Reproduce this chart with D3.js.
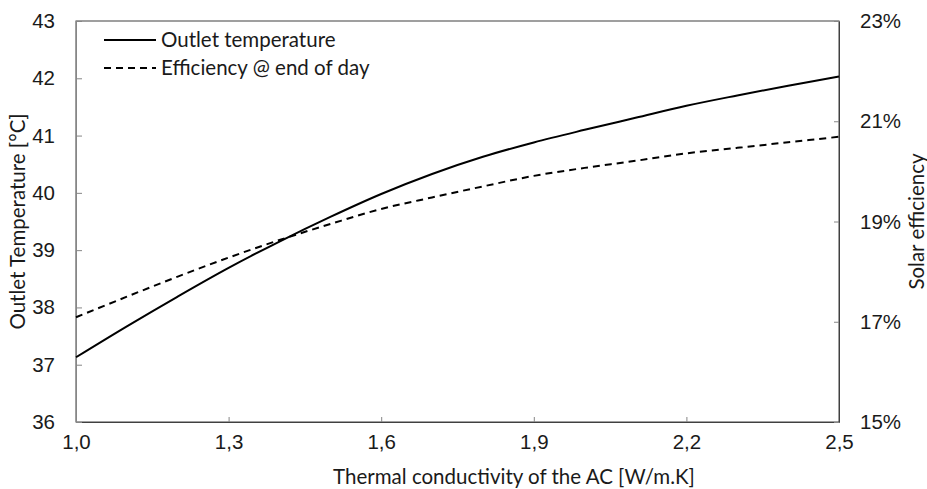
<!DOCTYPE html>
<html>
<head>
<meta charset="utf-8">
<script src="https://cdn.jsdelivr.net/npm/d3@7"></script>
<style>
  body { margin: 0; background: #fff; }
  svg { display: block; font-family: Lato, "Open Sans", sans-serif; }
</style>
</head>
<body>
<div id="chart"></div>
<script>
// Thermal conductivity of the AC [W/m.K]
const conductivity = [1.0, 1.1, 1.2, 1.3, 1.4, 1.5, 1.6, 1.7, 1.8, 1.9, 2.0, 2.1, 2.2, 2.3, 2.4, 2.5]
// Outlet temperature [°C]
const outletTemp = [37.13, 37.67, 38.19, 38.69, 39.15, 39.58, 39.98, 40.33, 40.63, 40.88, 41.10, 41.31, 41.52, 41.70, 41.87, 42.03]
// Efficiency @ end of day [%]
const efficiency = [17.09, 17.50, 17.90, 18.28, 18.63, 18.95, 19.25, 19.48, 19.70, 19.91, 20.07, 20.21, 20.36, 20.47, 20.58, 20.69]

const xTicks = [1.0, 1.3, 1.6, 1.9, 2.2, 2.5]
const leftTicks = [36, 37, 38, 39, 40, 41, 42, 43]
const rightTicks = [15, 17, 19, 21, 23]

const width = 927
const height = 489
const margin = { top: 21, right: 88, bottom: 67, left: 76 }
const innerW = width - margin.left - margin.right
const innerH = height - margin.top - margin.bottom
const fontSize = '20.5px'
const textColor = '#1a1a1a'

const svg = d3.select('#chart')
  .append('svg')
  .attr('width', width)
  .attr('height', height)

const g = svg.append('g')
  .attr('transform', `translate(${margin.left},${margin.top})`)

const x = d3.scaleLinear().domain([1.0, 2.5]).range([0, innerW])
const yL = d3.scaleLinear().domain([36, 43]).range([innerH, 0])
const yR = d3.scaleLinear().domain([15, 23]).range([innerH, 0])

const commaFmt = d => d3.format('.1f')(d).replace('.', ',')

// Plot frame
g.append('rect')
  .attr('width', innerW)
  .attr('height', innerH)
  .attr('fill', 'none')
  .attr('stroke', '#404040')
  .attr('stroke-width', 1)

// Axes (ticks point inward)
const styleAxis = (sel) => {
  sel.select('.domain').attr('stroke', '#868686')
  sel.selectAll('.tick line').attr('stroke', '#868686')
  sel.selectAll('.tick text')
    .attr('fill', textColor)
    .style('font-size', fontSize)
}

g.append('g')
  .attr('transform', `translate(0,${innerH})`)
  .call(d3.axisBottom(x).tickValues(xTicks).tickFormat(commaFmt).tickSize(-5).tickSizeOuter(0).tickPadding(12))
  .call(styleAxis)
  .call(s => s.select('.domain').attr('stroke', '#404040'))

g.append('g')
  .call(d3.axisLeft(yL).tickValues(leftTicks).tickFormat(d3.format('d')).tickSize(-6).tickSizeOuter(0).tickPadding(21))
  .call(styleAxis)

g.append('g')
  .attr('transform', `translate(${innerW},0)`)
  .call(d3.axisRight(yR).tickValues(rightTicks).tickFormat(d => d + '%').tickSize(-5).tickSizeOuter(0).tickPadding(21))
  .call(styleAxis)
  .call(s => s.select('.domain').attr('stroke', '#404040'))

// Lines
const tempLine = d3.line()
  .x((d, i) => x(conductivity[i]))
  .y(d => yL(d))
  .curve(d3.curveCatmullRom)

const effLine = d3.line()
  .x((d, i) => x(conductivity[i]))
  .y(d => yR(d))
  .curve(d3.curveCatmullRom)

g.append('path')
  .datum(efficiency)
  .attr('d', effLine)
  .attr('fill', 'none')
  .attr('stroke', '#000')
  .attr('stroke-width', 2)
  .attr('stroke-dasharray', '7,5')

g.append('path')
  .datum(outletTemp)
  .attr('d', tempLine)
  .attr('fill', 'none')
  .attr('stroke', '#000')
  .attr('stroke-width', 2)

// Legend
const legend = svg.append('g')
const legendItems = [
  { label: 'Outlet temperature', dash: null, y: 40 },
  { label: 'Efficiency @ end of day', dash: '7,5', y: 68 }
]
legendItems.forEach(item => {
  legend.append('line')
    .attr('x1', 104).attr('x2', 156)
    .attr('y1', item.y).attr('y2', item.y)
    .attr('stroke', '#000')
    .attr('stroke-width', 2)
    .attr('stroke-dasharray', item.dash)
  legend.append('text')
    .attr('x', 161)
    .attr('y', item.y)
    .attr('dy', '0.35em')
    .attr('fill', textColor)
    .style('font-size', fontSize)
    .text(item.label)
})

// Axis titles
svg.append('text')
  .attr('x', 514)
  .attr('y', 477)
  .attr('dy', '0.35em')
  .attr('text-anchor', 'middle')
  .attr('fill', textColor)
  .style('font-size', fontSize)
  .text('Thermal conductivity of the AC [W/m.K]')

svg.append('text')
  .attr('transform', `translate(18,${margin.top + innerH / 2}) rotate(-90)`)
  .attr('dy', '0.35em')
  .attr('text-anchor', 'middle')
  .attr('fill', textColor)
  .style('font-size', fontSize)
  .text('Outlet Temperature [°C]')

svg.append('text')
  .attr('transform', `translate(917,${margin.top + innerH / 2}) rotate(-90)`)
  .attr('dy', '0.35em')
  .attr('text-anchor', 'middle')
  .attr('fill', textColor)
  .style('font-size', fontSize)
  .text('Solar efficiency')
</script>
</body>
</html>
